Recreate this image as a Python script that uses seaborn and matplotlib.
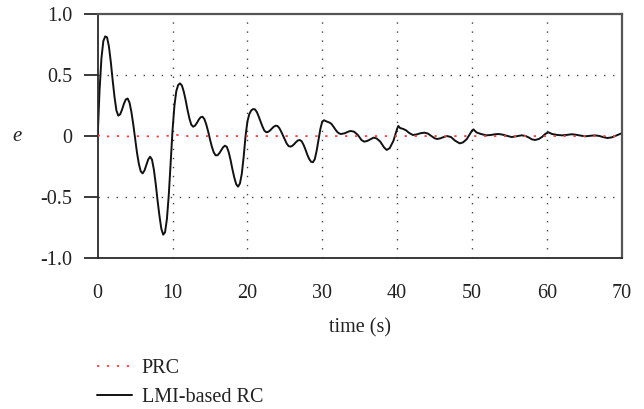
import matplotlib
matplotlib.use("Agg")
import matplotlib.pyplot as plt
import seaborn as sns
import pandas as pd

# Tracking error of the LMI-based repetitive controller
lmi_time = [
    0.0, 0.25, 0.5, 0.75, 1.0, 1.25, 1.5, 1.75, 2.0, 2.25, 2.5, 2.75,
    3.0, 3.25, 3.5, 3.75, 4.0, 4.25, 4.5, 4.75, 5.0, 5.25, 5.5, 5.75,
    6.0, 6.25, 6.5, 6.75, 7.0, 7.25, 7.5, 7.75, 8.0, 8.25, 8.5, 8.75,
    9.0, 9.25, 9.5, 9.75, 10.0, 10.25, 10.5, 10.75, 11.0, 11.25, 11.5, 11.75,
    12.0, 12.25, 12.5, 12.75, 13.0, 13.25, 13.5, 13.75, 14.0, 14.25, 14.5, 14.75,
    15.0, 15.25, 15.5, 15.75, 16.0, 16.25, 16.5, 16.75, 17.0, 17.25, 17.5, 17.75,
    18.0, 18.25, 18.5, 18.75, 19.0, 19.25, 19.5, 19.75, 20.0, 20.25, 20.5, 20.75,
    21.0, 21.25, 21.5, 21.75, 22.0, 22.25, 22.5, 22.75, 23.0, 23.25, 23.5, 23.75,
    24.0, 24.25, 24.5, 24.75, 25.0, 25.25, 25.5, 25.75, 26.0, 26.25, 26.5, 26.75,
    27.0, 27.25, 27.5, 27.75, 28.0, 28.25, 28.5, 28.75, 29.0, 29.25, 29.5, 29.75,
    30.0, 30.25, 30.5, 30.75, 31.0, 31.25, 31.5, 31.75, 32.0, 32.25, 32.5,
    33.0, 33.5, 33.8, 34.25, 34.75, 35.25, 35.6, 36.0, 36.5, 36.86, 37.25, 37.75,
    38.25, 38.6, 39.0, 39.5, 39.75, 40.0, 40.16, 40.4, 40.8, 41.2, 41.6, 42.1,
    42.6, 43.1, 43.65, 44.1, 44.5, 45.0, 45.35, 45.8, 46.3, 46.7, 47.2, 47.7,
    48.35, 48.8, 49.3, 49.7, 50.0, 50.2, 50.6, 51.2, 51.9, 52.5, 53.0, 53.5,
    54.0, 54.6, 55.3, 55.9, 56.6, 57.1, 57.6, 58.0, 58.4, 58.9, 59.4, 59.8,
    60.2, 60.7, 61.3, 62.0, 62.6, 63.3, 63.9, 64.5, 65.1, 65.7, 66.4, 67.0,
    67.5, 68.1, 68.7, 69.3, 70.0,
]
lmi_error = [
    0.0, 0.38, 0.64, 0.78, 0.82, 0.812, 0.737, 0.610, 0.459, 0.320, 0.211, 0.168,
    0.179, 0.217, 0.265, 0.301, 0.309, 0.275, 0.199, 0.097, -0.023, -0.137, -0.229, -0.290,
    -0.307, -0.283, -0.237, -0.192, -0.170, -0.193, -0.274, -0.392, -0.531, -0.656, -0.762, -0.811,
    -0.79, -0.68, -0.48, -0.22, 0.05, 0.25, 0.37, 0.42, 0.433, 0.416, 0.365, 0.295,
    0.215, 0.145, 0.094, 0.077, 0.086, 0.108, 0.135, 0.155, 0.159, 0.140, 0.096, 0.039,
    -0.027, -0.087, -0.134, -0.158, -0.158, -0.141, -0.116, -0.092, -0.079, -0.089, -0.132, -0.197,
    -0.274, -0.342, -0.396, -0.416, -0.39, -0.31, -0.17, 0.0, 0.12, 0.18, 0.21, 0.222,
    0.220, 0.199, 0.162, 0.120, 0.080, 0.046, 0.032, 0.034, 0.045, 0.061, 0.076, 0.085,
    0.084, 0.067, 0.038, 0.004, -0.032, -0.062, -0.082, -0.087, -0.080, -0.066, -0.049, -0.036,
    -0.032, -0.043, -0.072, -0.110, -0.153, -0.188, -0.211, -0.215, -0.19, -0.12, -0.03, 0.06,
    0.12, 0.13, 0.122, 0.116, 0.11, 0.098, 0.077, 0.054, 0.034, 0.022, 0.017,
    0.023, 0.037, 0.042, 0.036, 0.009, -0.033, -0.046, -0.040, -0.024, -0.013, -0.019, -0.046,
    -0.093, -0.114, -0.10, -0.04, 0.01, 0.06, 0.083, 0.066, 0.059, 0.047, 0.026, 0.009,
    0.013, 0.023, 0.028, 0.021, 0.004, -0.018, -0.024, -0.018, -0.006, 0.0, -0.008, -0.036,
    -0.06, -0.052, -0.025, 0.015, 0.045, 0.055, 0.03, 0.017, 0.006, 0.009, 0.014, 0.017,
    0.013, 0.003, -0.008, -0.002, 0.006, 0.002, -0.012, -0.027, -0.032, -0.025, -0.005, 0.018,
    0.031, 0.017, 0.01, 0.006, 0.009, 0.015, 0.011, 0.004, -0.002, 0.002, 0.006, 0.001,
    -0.008, -0.016, -0.01, 0.005, 0.023,
]

# Tracking error of the PRC scheme (stays close to zero)
prc_time = [0, 0.6, 1.2, 2.0, 4.0, 6.0, 8.0, 9.5, 10.2, 12.0, 20.0, 30.0, 40.0, 50.0, 60.0, 70.0]
prc_error = [0.0, 0.012, -0.004, 0.002, -0.003, 0.0, -0.004, 0.003, 0.012, 0.0, 0.0, 0.0, 0.0, 0.0, 0.0, 0.0]

x_ticks = [0, 10, 20, 30, 40, 50, 60, 70]
y_ticks = [-1.0, -0.5, 0.0, 0.5, 1.0]
y_tick_labels = ["-1.0", "-0.5", "0", "0.5", "1.0"]

assert len(lmi_time) == len(lmi_error)

sns.set_style("white")
plt.rcParams["font.family"] = ["Liberation Serif", "DejaVu Serif"]

lmi_df = pd.DataFrame({"time": lmi_time, "e": lmi_error})
prc_df = pd.DataFrame({"time": prc_time, "e": prc_error})

fig = plt.figure(figsize=(6.44, 4.09), dpi=100)
ax = fig.add_axes([0.1517, 0.370, 0.8137, 0.5946])

ax.set_xlim(0, 70)
ax.set_ylim(-1.0, 1.0)

# dotted grid at the inner ticks
for xv in x_ticks[1:-1]:
    ax.axvline(xv, color="#444444", lw=1.0, ls=(0, (1, 5.5)), zorder=1)
for yv in (-0.5, 0.5):
    ax.axhline(yv, color="#444444", lw=1.0, ls=(0, (1, 5.5)), zorder=1)

sns.lineplot(data=prc_df, x="time", y="e", ax=ax, color="#e8474a", lw=1.3,
             linestyle=(0, (1.3, 4.2)), label="PRC", zorder=3)
sns.lineplot(data=lmi_df, x="time", y="e", ax=ax, color="#111111", lw=1.4,
             label="LMI-based RC", zorder=2)

# spines
for side in ("left", "bottom"):
    ax.spines[side].set_color("#2a2a2a")
    ax.spines[side].set_linewidth(1.3)
for side in ("top", "right"):
    ax.spines[side].set_color("#555555")
    ax.spines[side].set_linewidth(1.6)
    ax.spines[side].set_visible(True)

ax.set_yticks(y_ticks)
ax.set_yticklabels(y_tick_labels)
ax.tick_params(axis="y", which="major", direction="out", length=10.1, width=1.3,
               color="#2a2a2a", pad=8, labelsize=14.5, labelcolor="#222222", left=True)

ax.set_xticks(x_ticks)
ax.set_xticks([0, 70], minor=True)
ax.tick_params(axis="x", which="major", length=0, pad=19, labelsize=14.5, labelcolor="#222222")
ax.tick_params(axis="x", which="minor", direction="out", length=13, width=1.3,
               color="#2a2a2a", bottom=True)

ax.set_xlabel("time (s)", fontsize=14.5, color="#222222", labelpad=11)
ax.set_ylabel("")
fig.text(0.027, 0.667, "e", fontsize=15, style="italic", color="#222222",
         ha="center", va="center")

ax.legend(loc="upper left", bbox_to_anchor=(0.151, 0.122), bbox_transform=fig.transFigure,
          frameon=False, fontsize=14.5, handlelength=1.75, handletextpad=0.45,
          labelspacing=0.5, borderpad=0, borderaxespad=0, labelcolor="#222222")

fig.savefig("out.png", dpi=100)
